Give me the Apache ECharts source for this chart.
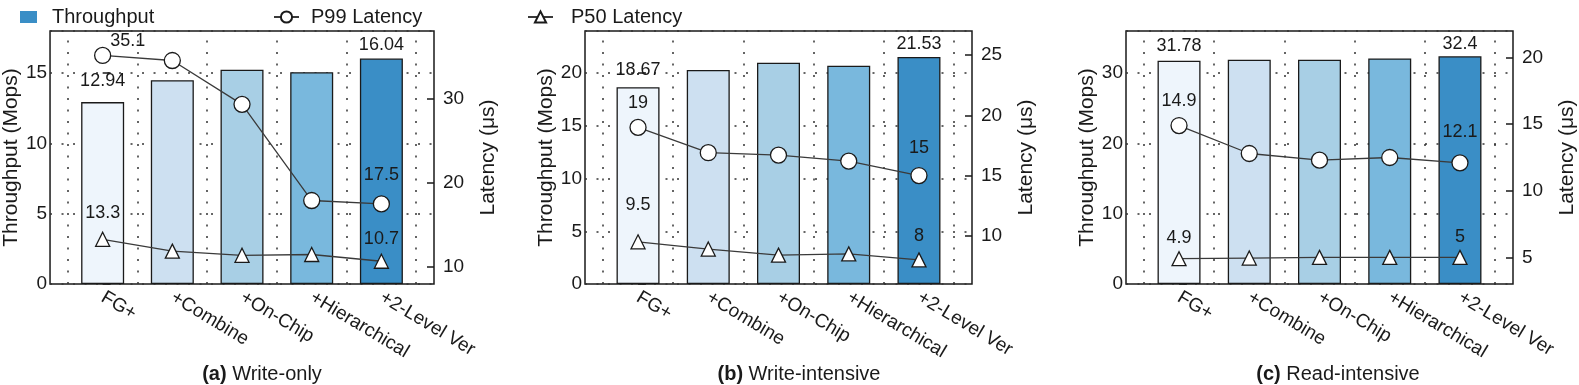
<!DOCTYPE html>
<html>
<head>
<meta charset="utf-8">
<script src="https://cdn.jsdelivr.net/npm/echarts@6/dist/echarts.min.js"></script>
<style>
html,body{margin:0;padding:0;background:#fff;}
#chart{width:1579px;height:385px;}
</style>
</head>
<body>
<div id="chart"></div>
<script>
// ---------- data ----------
const categories = ['FG+', '+Combine', '+On-Chip', '+Hierarchical', '+2-Level Ver'];
const captionTags = ['(a)', '(b)', '(c)'];
const captionTexts = ['Write-only', 'Write-intensive', 'Read-intensive'];

const throughputA = [12.94, 14.5, 15.25, 15.07, 16.04];
const p99A = [35.1, 34.5, 29.3, 17.9, 17.5];
const p50A = [13.3, 11.9, 11.4, 11.5, 10.7];

const throughputB = [18.67, 20.3, 21.0, 20.7, 21.53];
const p99B = [19, 16.9, 16.7, 16.2, 15];
const p50B = [9.5, 8.9, 8.4, 8.5, 8];

const throughputC = [31.78, 31.9, 31.9, 32.1, 32.4];
const p99C = [14.9, 12.8, 12.3, 12.5, 12.1];
const p50C = [4.9, 4.95, 5, 5, 5];

const leftMax = [18, 24, 36];
const leftStep = [5, 5, 10];
const rightMin = [8, 6, 3];
const rightMax = [38, 27, 22];
const rightTicksA = [10, 20, 30];
const rightTicksB = [10, 15, 20, 25];
const rightTicksC = [5, 10, 15, 20];

// ---------- styles / layout ----------
const FONT = "'Liberation Sans', Arial, Helvetica, sans-serif";
const TXT = '#1a1a1a';
const barColors = ['#eef5fc', '#cde0f1', '#a8cfe5', '#79b8dd', '#3a8ec6'];
const gridLeft = [47, 585, 1126];
const gridWidth = 387, gridTop = 31, gridHeight = 253;
const captionX = [262, 799, 1338];

const panels = [
  {thr: throughputA, p99: p99A, p50: p50A, rt: rightTicksA},
  {thr: throughputB, p99: p99B, p50: p50B, rt: rightTicksB},
  {thr: throughputC, p99: p99C, p50: p50C, rt: rightTicksC}
];

// per-panel label tweaks (style only)
const barLabelDist = [[12, 5], [8, 4], [6, 3]];
const p99LabelCfg = [
  [{distance: 0, offset: [25, 3]}, {distance: 11, offset: [0, 0]}],
  [{distance: 7, offset: [0, 0]}, {distance: 10, offset: [0, 0]}],
  [{distance: 7, offset: [0, 0]}, {distance: 13, offset: [0, 0]}]
];
const p50LabelCfg = [
  [{distance: 10}, {distance: 6}],
  [{distance: 20}, {distance: 7}],
  [{distance: 4}, {distance: 4}]
];

const last = categories.length - 1;
const halfPositions = categories.map((_, i) => i - 0.5).concat([last + 0.5]);
const dotted = {type: [2, 9.5], color: '#333', width: 1.5};

const grid = [], xAxis = [], yAxis = [], series = [];
panels.forEach((p, k) => {
  grid.push({left: gridLeft[k], top: gridTop, width: gridWidth, height: gridHeight,
    show: true, borderColor: '#1a1a1a', borderWidth: 1.5, backgroundColor: 'transparent'});
  xAxis.push({
    type: 'value', gridIndex: k, min: -0.755, max: last + 0.755,
    axisLine: {show: false}, axisTick: {show: false}, splitLine: {show: false},
    axisLabel: {
      customValues: categories.map((_, i) => i),
      formatter: v => categories[Math.round(v)] || '',
      rotate: -31, margin: 12, fontSize: 19, color: TXT, fontFamily: FONT
    }
  });
  yAxis.push({
    type: 'value', gridIndex: k, min: 0, max: leftMax[k], interval: leftStep[k],
    position: 'left',
    name: 'Throughput (Mops)', nameLocation: 'middle', nameGap: 23,
    nameTextStyle: {fontSize: 21, color: TXT, fontFamily: FONT},
    axisLine: {show: false},
    axisTick: {show: true, inside: true, length: 8, lineStyle: {color: '#1a1a1a', width: 1.5}},
    axisLabel: {margin: 3, fontSize: 19, color: TXT, fontFamily: FONT, showMaxLabel: false},
    splitLine: {show: true, lineStyle: dotted}
  });
  yAxis.push({
    type: 'value', gridIndex: k, min: rightMin[k], max: rightMax[k],
    position: 'right',
    name: 'Latency (μs)', nameLocation: 'middle', nameGap: 44,
    nameTextStyle: {fontSize: 21, color: TXT, fontFamily: FONT},
    axisLine: {show: false},
    axisTick: {show: true, inside: true, length: 7, customValues: p.rt, lineStyle: {color: '#1a1a1a', width: 1.5}},
    axisLabel: {margin: 9, fontSize: 19, color: TXT, fontFamily: FONT, customValues: p.rt},
    splitLine: {show: false}
  });

  const lblBase = {color: TXT, fontSize: 18, fontFamily: FONT, formatter: q => String(q.value[1])};
  series.push({
    name: 'Throughput', type: 'bar', xAxisIndex: k, yAxisIndex: 2 * k,
    barWidth: 43, z: 2,
    itemStyle: {color: '#3a8ec6', borderColor: '#1a1a1a', borderWidth: 1.3},
    data: p.thr.map((v, i) => ({
      value: [i, v],
      itemStyle: {color: barColors[i]},
      label: {show: i === 0 || i === last, position: 'top',
        distance: i === 0 ? barLabelDist[k][0] : barLabelDist[k][1], ...lblBase}
    })),
    markLine: {silent: true, symbol: ['none', 'none'], label: {show: false},
      lineStyle: dotted, data: halfPositions.map(x => ({xAxis: x}))}
  });
  series.push({
    name: 'P99 Latency', type: 'line', xAxisIndex: k, yAxisIndex: 2 * k + 1,
    symbol: 'circle', symbolSize: 16, z: 5,
    lineStyle: {color: '#3a3a3a', width: 1.3},
    itemStyle: {color: '#fff', borderColor: '#1a1a1a', borderWidth: 1.3},
    data: p.p99.map((v, i) => {
      const c = i === 0 ? p99LabelCfg[k][0] : p99LabelCfg[k][1];
      return {value: [i, v], label: {show: i === 0 || i === last, position: 'top',
        distance: c.distance, offset: c.offset, ...lblBase}};
    })
  });
  series.push({
    name: 'P50 Latency', type: 'line', xAxisIndex: k, yAxisIndex: 2 * k + 1,
    symbol: 'triangle', symbolSize: 14, z: 5,
    lineStyle: {color: '#3a3a3a', width: 1.3},
    itemStyle: {color: '#fff', borderColor: '#1a1a1a', borderWidth: 1.3},
    data: p.p50.map((v, i) => {
      const c = i === 0 ? p50LabelCfg[k][0] : p50LabelCfg[k][1];
      return {value: [i, v], label: {show: i === 0 || i === last, position: 'top',
        distance: c.distance, ...lblBase}};
    })
  });
});

const legendText = {fontSize: 20, color: TXT, fontFamily: FONT};
const legend = [
  {data: ['Throughput'], left: 15, top: 2, icon: 'rect', itemWidth: 17, itemHeight: 12,
   itemStyle: {borderWidth: 0}, textStyle: {...legendText, padding: [0, 0, 0, 10]}, selectedMode: false},
  {data: ['P99 Latency'], left: 268, top: 2, itemWidth: 25, itemHeight: 14,
   textStyle: {...legendText, padding: [0, 0, 0, 7]}, selectedMode: false},
  {data: ['P50 Latency'], left: 522, top: 2, itemWidth: 25, itemHeight: 14,
   textStyle: {...legendText, padding: [0, 0, 0, 13]}, selectedMode: false}
];

const graphic = captionTags.map((t, k) => ({
  type: 'text', x: captionX[k], y: 374,
  style: {
    text: '{b|' + t + '} ' + captionTexts[k],
    rich: {b: {fontWeight: 'bold', fontSize: 20, fontFamily: FONT, fill: TXT}},
    fontSize: 20, fontFamily: FONT, fill: TXT, align: 'center', verticalAlign: 'middle'
  }
}));

const chart = echarts.init(document.getElementById('chart'), null, {renderer: 'canvas'});
chart.setOption({
  animation: false,
  backgroundColor: '#fff',
  textStyle: {fontFamily: FONT},
  legend, grid, xAxis, yAxis, series, graphic
});
</script>
</body>
</html>
